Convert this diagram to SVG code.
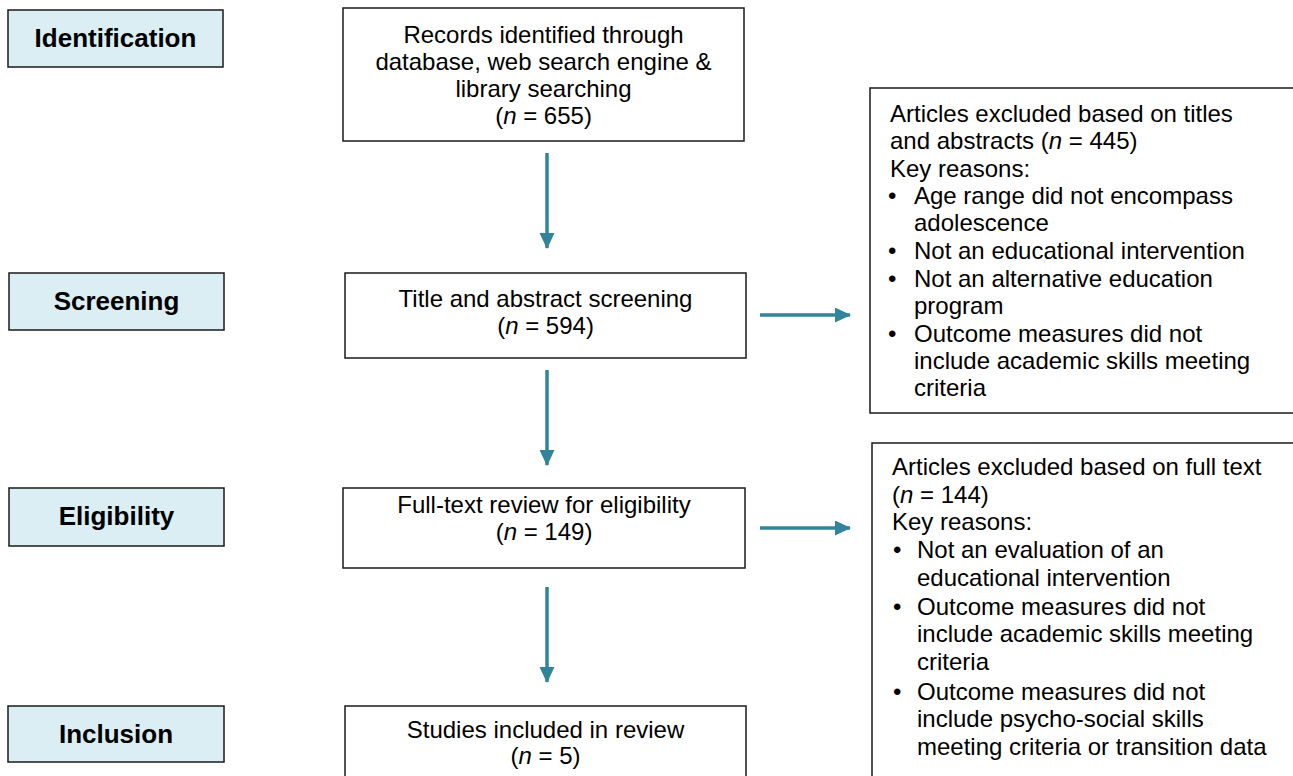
<svg xmlns="http://www.w3.org/2000/svg" width="1293" height="776" viewBox="0 0 1293 776">
<style>
.lbl rect{fill:#DAEEF3;stroke:#1a1a1a;stroke-width:1.5}
.lbl text{font-family:"Liberation Sans",Arial,sans-serif;font-weight:bold;font-size:26px;fill:#000;text-anchor:middle}
.box rect{fill:#fff;stroke:#1a1a1a;stroke-width:1.5}
.box text{font-family:"Liberation Sans",Arial,sans-serif;font-size:24px;fill:#000}
.c text{text-anchor:middle}
.i{font-style:italic}
.conn line{stroke:#31849B;stroke-width:3.5}
</style>
<defs>
<marker id="ah" markerUnits="userSpaceOnUse" markerWidth="16" markerHeight="16" refX="15" refY="7.5" orient="auto">
<path d="M0,0 L16,7.5 L0,15 Z" fill="#31849B"/>
</marker>
</defs>
<g id="lbl-identification" class="lbl"><rect x="8" y="10" width="215" height="57"/><text x="115.5" y="47">Identification</text></g>
<g id="lbl-screening" class="lbl"><rect x="9" y="273" width="215" height="57"/><text x="116.5" y="310">Screening</text></g>
<g id="lbl-eligibility" class="lbl"><rect x="9" y="488" width="215" height="58"/><text x="116.5" y="525">Eligibility</text></g>
<g id="lbl-inclusion" class="lbl"><rect x="8" y="706" width="216" height="56"/><text x="116" y="743">Inclusion</text></g>

<g id="records" class="box c"><rect x="343" y="8" width="401" height="133"/>
<text x="543.5" y="43">Records identified through</text>
<text x="543.5" y="70">database, web search engine &amp;</text>
<text x="543.5" y="97">library searching</text>
<text x="543.5" y="124">(<tspan class="i">n</tspan> = 655)</text></g>

<g id="screening" class="box c"><rect x="345" y="273" width="401" height="85"/>
<text x="545.5" y="307">Title and abstract screening</text>
<text x="545.5" y="334">(<tspan class="i">n</tspan> = 594)</text></g>

<g id="fulltext" class="box c"><rect x="343" y="488" width="402" height="80"/>
<text x="544" y="513">Full-text review for eligibility</text>
<text x="544" y="540">(<tspan class="i">n</tspan> = 149)</text></g>

<g id="included" class="box c"><rect x="345" y="706" width="401" height="80"/>
<text x="545.5" y="738">Studies included in review</text>
<text x="545.5" y="764">(<tspan class="i">n</tspan> = 5)</text></g>

<g id="excluded1" class="box"><rect x="870" y="88" width="440" height="325"/>
<text x="890" y="122">Articles excluded based on titles</text>
<text x="890" y="149">and abstracts (<tspan class="i">n</tspan> = 445)</text>
<text x="890" y="177">Key reasons:</text>
<text x="888" y="204">•</text><text x="914" y="204">Age range did not encompass</text>
<text x="914" y="231">adolescence</text>
<text x="888" y="259">•</text><text x="914" y="259">Not an educational intervention</text>
<text x="888" y="287">•</text><text x="914" y="287">Not an alternative education</text>
<text x="914" y="314">program</text>
<text x="888" y="342">•</text><text x="914" y="342">Outcome measures did not</text>
<text x="914" y="369">include academic skills meeting</text>
<text x="914" y="396">criteria</text></g>

<g id="excluded2" class="box"><rect x="872" y="443" width="440" height="350"/>
<text x="892" y="475">Articles excluded based on full text</text>
<text x="892" y="503">(<tspan class="i">n</tspan> = 144)</text>
<text x="892" y="530">Key reasons:</text>
<text x="893" y="558">•</text><text x="917" y="558">Not an evaluation of an</text>
<text x="917" y="586">educational intervention</text>
<text x="893" y="615">•</text><text x="917" y="615">Outcome measures did not</text>
<text x="917" y="642">include academic skills meeting</text>
<text x="917" y="670">criteria</text>
<text x="893" y="700">•</text><text x="917" y="700">Outcome measures did not</text>
<text x="917" y="727">include psycho-social skills</text>
<text x="917" y="755">meeting criteria or transition data</text></g>

<g id="connectors" class="conn">
<line x1="547" y1="153" x2="547" y2="248" marker-end="url(#ah)"/>
<line x1="547" y1="370" x2="547" y2="465" marker-end="url(#ah)"/>
<line x1="547" y1="587" x2="547" y2="682" marker-end="url(#ah)"/>
<line x1="760" y1="315" x2="850" y2="315" marker-end="url(#ah)"/>
<line x1="760" y1="528" x2="850" y2="528" marker-end="url(#ah)"/>
</g>
</svg>
